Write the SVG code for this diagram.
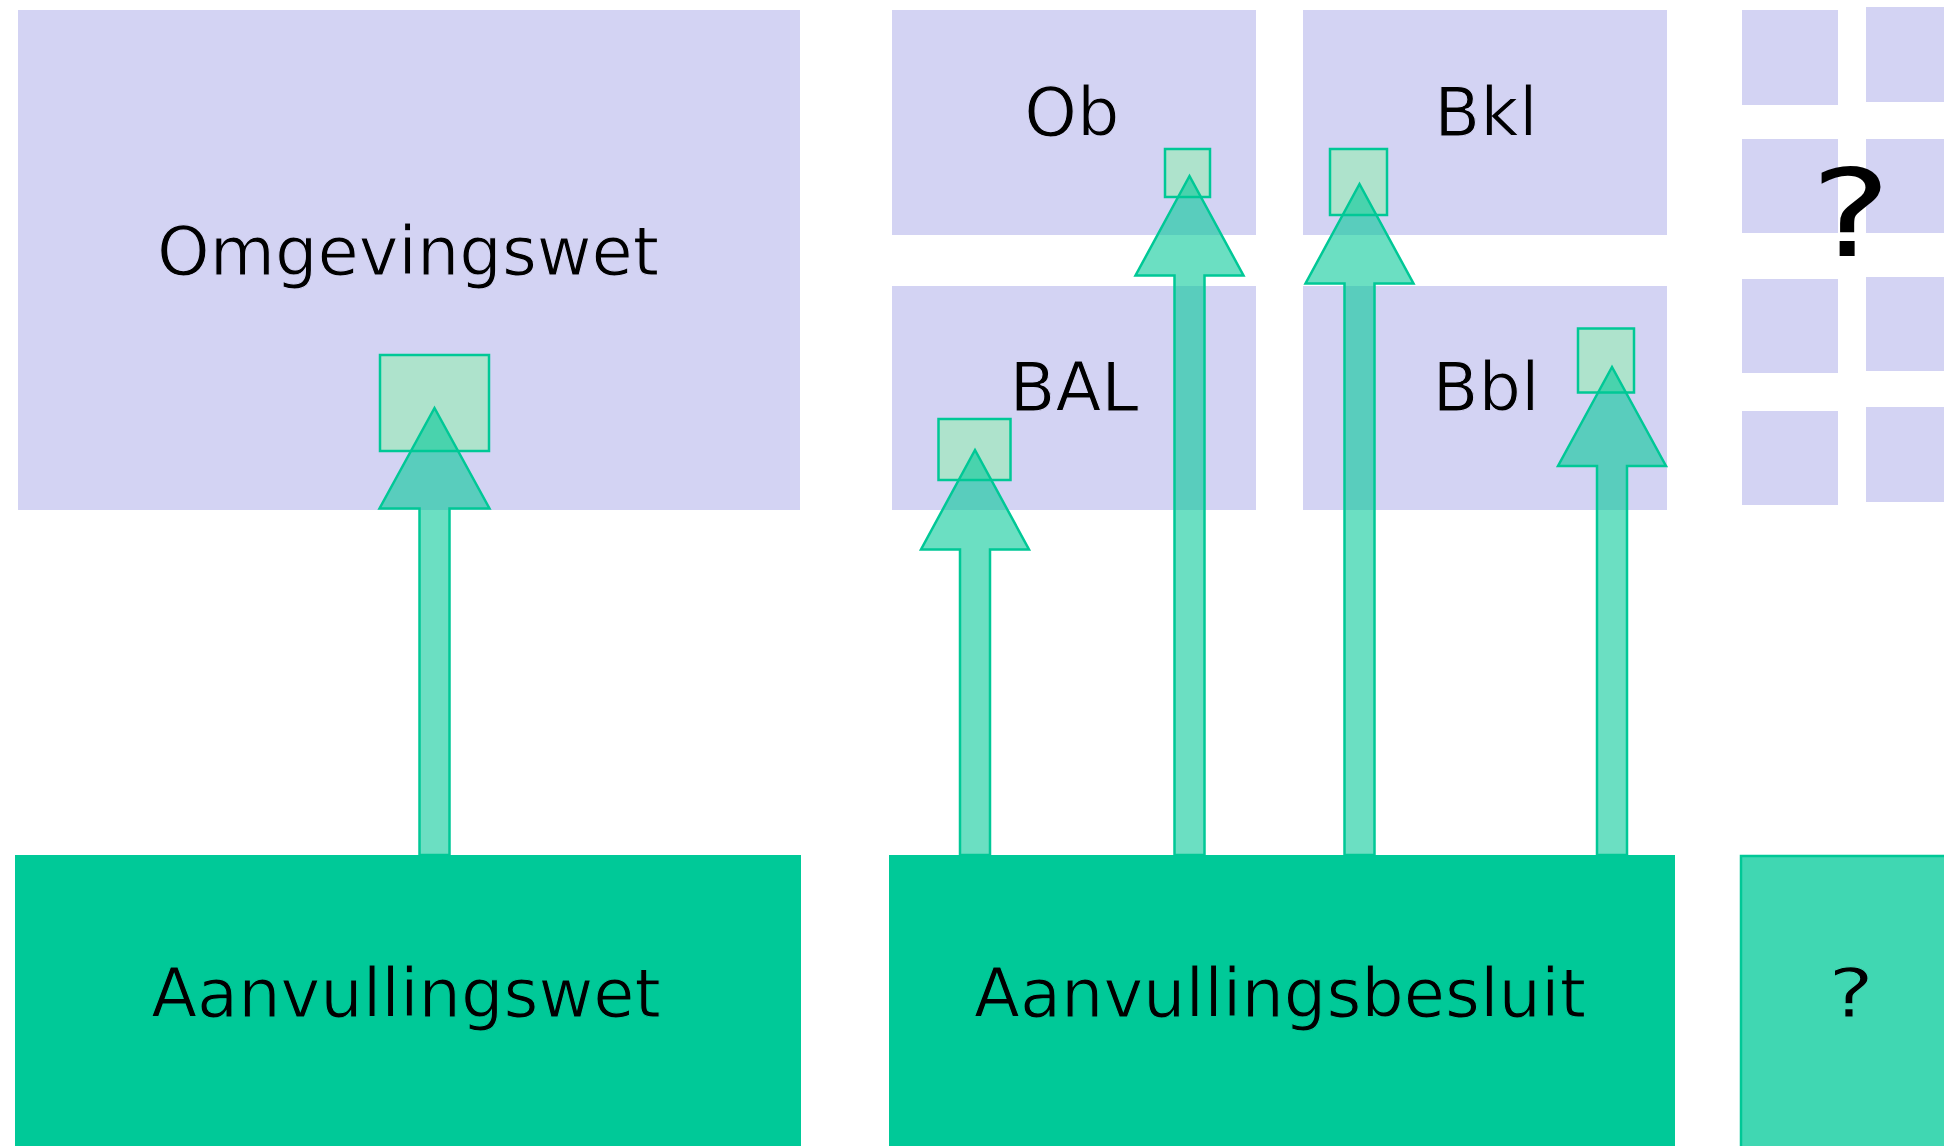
<svg xmlns="http://www.w3.org/2000/svg" width="1944" height="1146" viewBox="0 0 1944 1146">
<style>
.lav{fill:#d3d3f3}
.grn{fill:#00c998}
.lbl{font-family:"DejaVu Sans","Liberation Sans",sans-serif;font-size:67px;fill:#000;text-anchor:middle;stroke-width:1.1px}
.onlav{stroke:#d3d3f3}
.ongrn{stroke:#00c998}
.sq{fill:#aee3cc;stroke:#00c896;stroke-width:2.5}
.arr{fill:#00c896;fill-opacity:0.58;stroke:#00c896;stroke-width:2.5;stroke-linejoin:miter}
</style>
<rect width="1944" height="1146" fill="#fff"/>
<g id="omgevingswet"><rect class="lav" x="18" y="10" width="782" height="500"/><text class="lbl onlav" x="408" y="275">Omgevingswet</text></g>
<g id="ob"><rect class="lav" x="892" y="10" width="364" height="225"/><text class="lbl onlav" x="1072" y="136">Ob</text></g>
<g id="bkl"><rect class="lav" x="1303" y="10" width="364" height="225"/><text class="lbl onlav" x="1486" y="136">Bkl</text></g>
<g id="bal"><rect class="lav" x="892" y="286" width="364" height="224"/><text class="lbl onlav" x="1074" y="411">BAL</text></g>
<g id="bbl"><rect class="lav" x="1303" y="286" width="364" height="224"/><text class="lbl onlav" x="1486" y="411">Bbl</text></g>
<g id="overig">
<rect class="lav" x="1742" y="10" width="96" height="95"/>
<rect class="lav" x="1742" y="139" width="96" height="94"/>
<rect class="lav" x="1742" y="279" width="96" height="94"/>
<rect class="lav" x="1742" y="411" width="96" height="94"/>
<rect class="lav" x="1866" y="7" width="90" height="95"/>
<rect class="lav" x="1866" y="139" width="90" height="94"/>
<rect class="lav" x="1866" y="277" width="90" height="94"/>
<rect class="lav" x="1866" y="407" width="90" height="95"/>
<text class="lbl" x="1851" y="256" style="font-size:121px" transform="translate(1851 0) scale(1.25 1) translate(-1851 0)">?</text>
</g>
<g id="aanvullingswet"><rect class="grn" x="15" y="855" width="786" height="300"/><text class="lbl ongrn" x="406" y="1017">Aanvullingswet</text></g>
<g id="aanvullingsbesluit"><rect class="grn" x="889" y="855" width="786" height="300"/><text class="lbl ongrn" x="1280" y="1017">Aanvullingsbesluit</text></g>
<g id="onbekend"><rect x="1741" y="856" width="240" height="300" fill="#00c998" fill-opacity="0.75" stroke="#00c896" stroke-width="2.5"/><text class="lbl" x="1851" y="1017" style="stroke:#40d6b2" transform="translate(1851 0) scale(1.3 1) translate(-1851 0)">?</text></g>
<g id="connectors">
<rect class="sq" x="380" y="355" width="109" height="96"/>
<rect class="sq" x="938.5" y="419" width="72" height="61"/>
<rect class="sq" x="1165" y="149" width="45" height="48"/>
<rect class="sq" x="1330" y="149" width="57" height="66"/>
<rect class="sq" x="1578" y="328.5" width="56" height="64"/>
<polygon class="arr" points="434.5,408 489.5,508.5 449.5,508.5 449.5,855 419.5,855 419.5,508.5 379.5,508.5"/>
<polygon class="arr" points="975,450 1029,549.5 990,549.5 990,855 960,855 960,549.5 921,549.5"/>
<polygon class="arr" points="1189.5,176 1243.5,275.5 1204.5,275.5 1204.5,855 1174.5,855 1174.5,275.5 1135.5,275.5"/>
<polygon class="arr" points="1359.5,184 1413.5,283.5 1374.5,283.5 1374.5,855 1344.5,855 1344.5,283.5 1305.5,283.5"/>
<polygon class="arr" points="1612,367 1666,466 1627,466 1627,855 1597,855 1597,466 1558,466"/>
</g>
</svg>
